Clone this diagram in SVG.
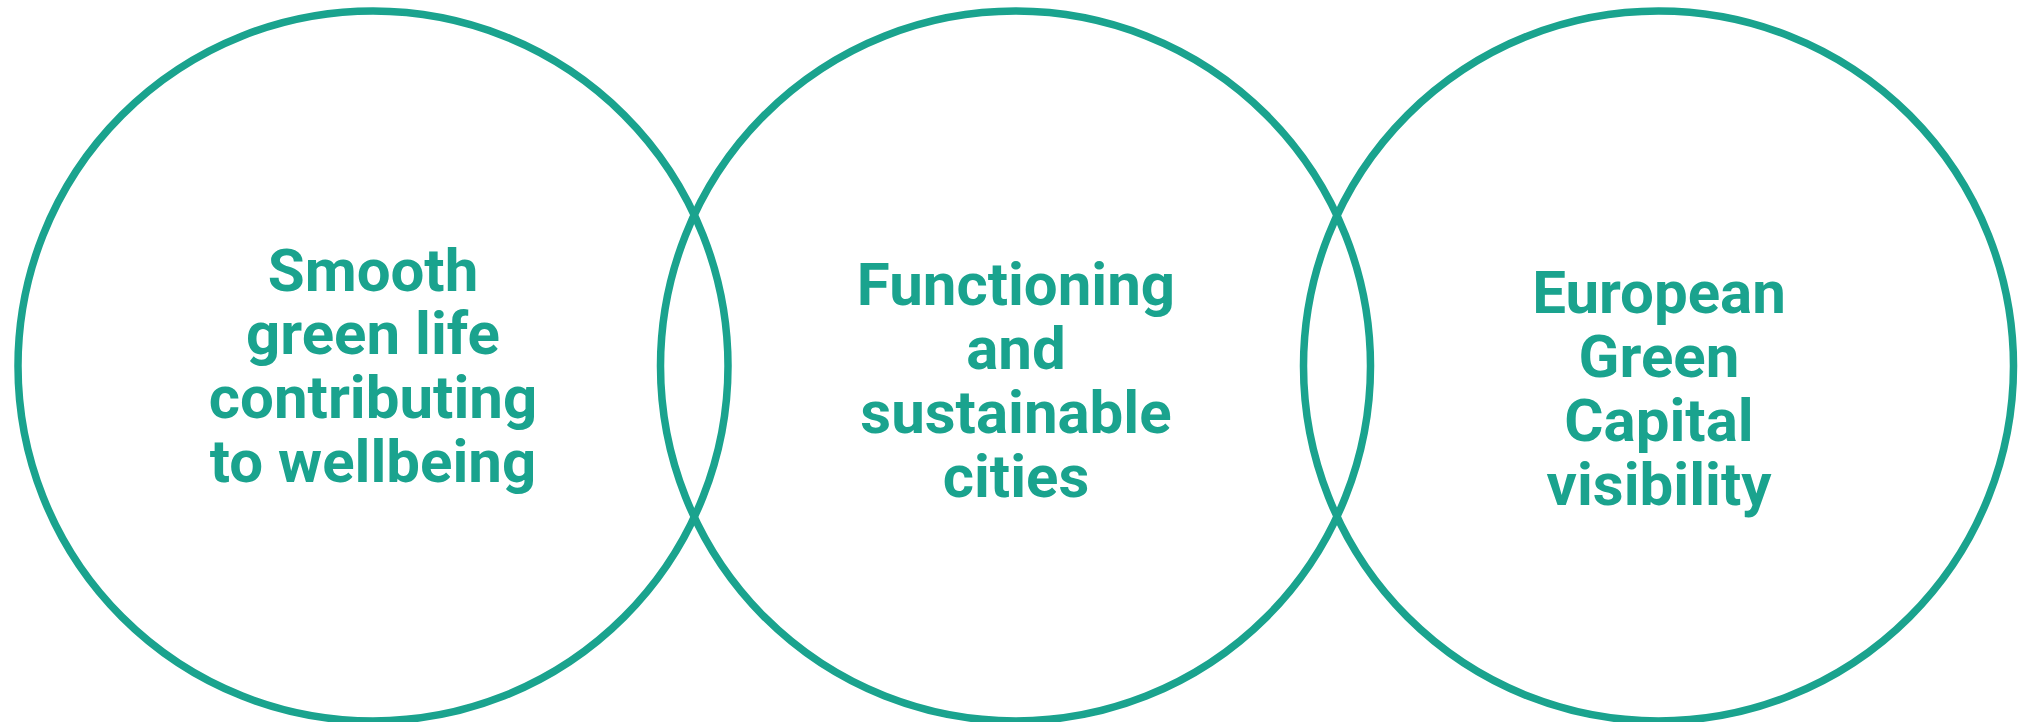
<svg xmlns="http://www.w3.org/2000/svg" width="2018" height="722" viewBox="0 0 2018 722">
<style>
.ring{fill:none;stroke:#1AA38E;stroke-width:7.5}
.lbl{font-family:Roboto,"Liberation Sans",sans-serif;font-weight:700;font-size:60px;fill:#1AA38E;text-anchor:middle}
</style>
<rect width="2018" height="722" fill="#ffffff"/>
<g id="node-wellbeing">
<circle class="ring" cx="373" cy="366" r="355"/>
<text class="lbl"><tspan x="373" y="290.7">Smooth</tspan><tspan x="373" y="354">green life</tspan><tspan x="373" y="418.3">contributing</tspan><tspan x="373" y="482.3">to wellbeing</tspan></text>
</g>
<g id="node-cities">
<circle class="ring" cx="1015.5" cy="366" r="355"/>
<text class="lbl"><tspan x="1016" y="305">Functioning</tspan><tspan x="1016" y="369">and</tspan><tspan x="1016" y="433.3">sustainable</tspan><tspan x="1016" y="496.7">cities</tspan></text>
</g>
<g id="node-capital">
<circle class="ring" cx="1658.5" cy="366" r="355"/>
<text class="lbl"><tspan x="1659" y="312.7">European</tspan><tspan x="1659" y="376.7">Green</tspan><tspan x="1659" y="441">Capital</tspan><tspan x="1659" y="505">visibility</tspan></text>
</g>
<g id="connectors"></g>
</svg>
